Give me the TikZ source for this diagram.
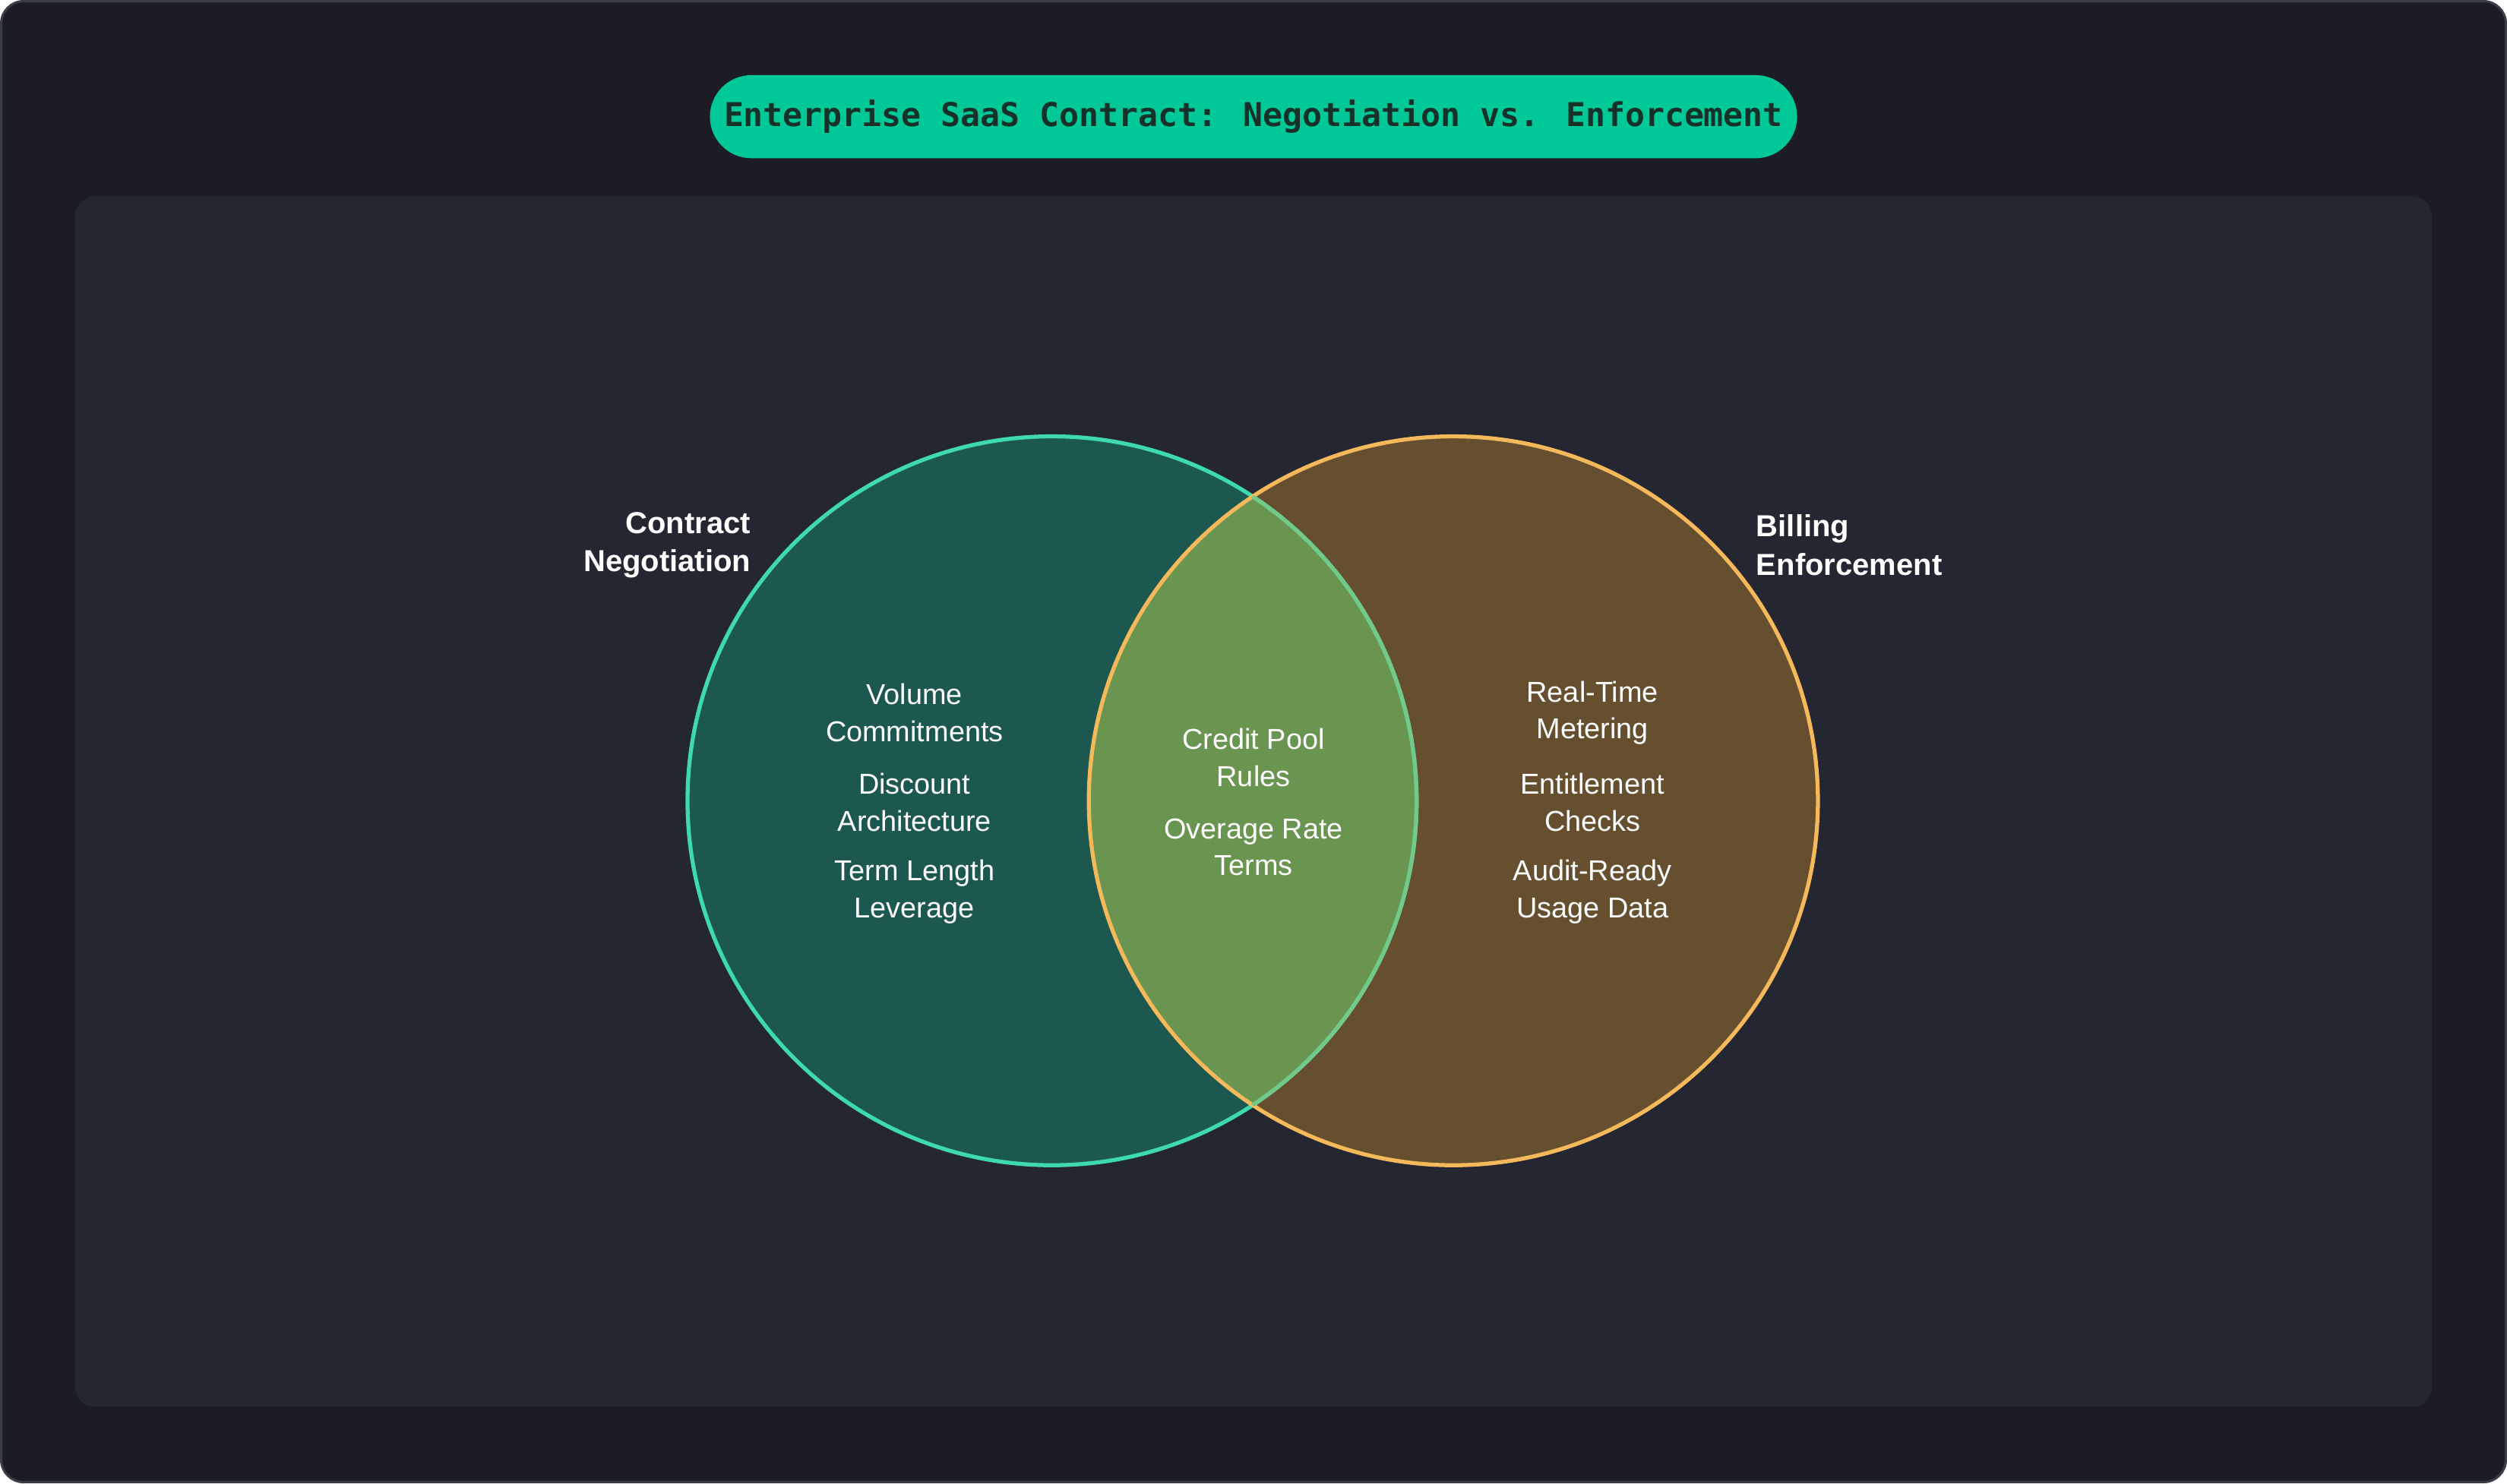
\documentclass[tikz,border=0pt]{standalone}
\usepackage{fontspec}
\setmainfont{Liberation Sans}
\newfontfamily\titlefont{DejaVu Sans Mono}
\definecolor{bgouter}{HTML}{1B1C26}
\definecolor{bgborder}{HTML}{3A3D48}
\definecolor{panel}{HTML}{242631}
\definecolor{pill}{HTML}{00C896}
\definecolor{pilltext}{HTML}{16302A}
\definecolor{lfill}{HTML}{1C5850}
\definecolor{lstroke}{HTML}{3FD9B0}
\definecolor{rfill}{HTML}{654F2E}
\definecolor{rstroke}{HTML}{F5B85A}
\definecolor{ifill}{HTML}{6A9550}
\definecolor{istroke}{HTML}{72C98A}
\begin{document}
\begin{tikzpicture}[x=1pt,y=-1pt,
  item/.style={text=white,align=center,font=\fontsize{18}{23}\selectfont},
  lab/.style={text=white,font=\bfseries\fontsize{19}{24}\selectfont}]
\useasboundingbox (0,0) rectangle (1568,928);
\draw[bgborder,fill=bgouter,line width=1.5pt,rounded corners=14] (0.75,0.75) rectangle (1567.25,927.25);
\fill[panel,rounded corners=12] (47,123) rectangle (1521,880);
\node[fill=pill,rounded corners=26,minimum width=680,minimum height=52,inner sep=0,text=pilltext,font=\titlefont\bfseries\fontsize{20.5}{24}\selectfont] (title) at (784,73) {Enterprise SaaS Contract: Negotiation vs. Enforcement};
\coordinate (lc) at (658,501);
\coordinate (rc) at (909,501);
\fill[lfill] (lc) circle (228);
\fill[rfill] (rc) circle (228);
\begin{scope}
\clip (lc) circle (228);
\fill[ifill] (rc) circle (228);
\end{scope}
\draw[lstroke,line width=2.5pt] (lc) circle (228);
\draw[rstroke,line width=2.5pt] (rc) circle (228);
\begin{scope}
\clip (rc) circle (228);
\draw[istroke,line width=2.5pt] (lc) circle (228);
\end{scope}
\node[item] (l1) at (572,446) {Volume\\Commitments};
\node[item] (l2) at (572,502) {Discount\\Architecture};
\node[item] (l3) at (572,558) {Term Length\\Leverage};
\node[item] (c1) at (784,474) {Credit Pool\\Rules};
\node[item] (c2) at (784,530) {Overage Rate\\Terms};
\node[item] (r1) at (996,446) {Real-Time\\Metering};
\node[item] (r2) at (996,502) {Entitlement\\Checks};
\node[item] (r3) at (996,558) {Audit-Ready\\Usage Data};
\node[lab,align=right,anchor=east] (ln) at (473,341) {Contract\\Negotiation};
\node[lab,align=left,anchor=west] (rn) at (1095,341) {Billing\\Enforcement};
\end{tikzpicture}
\end{document}
